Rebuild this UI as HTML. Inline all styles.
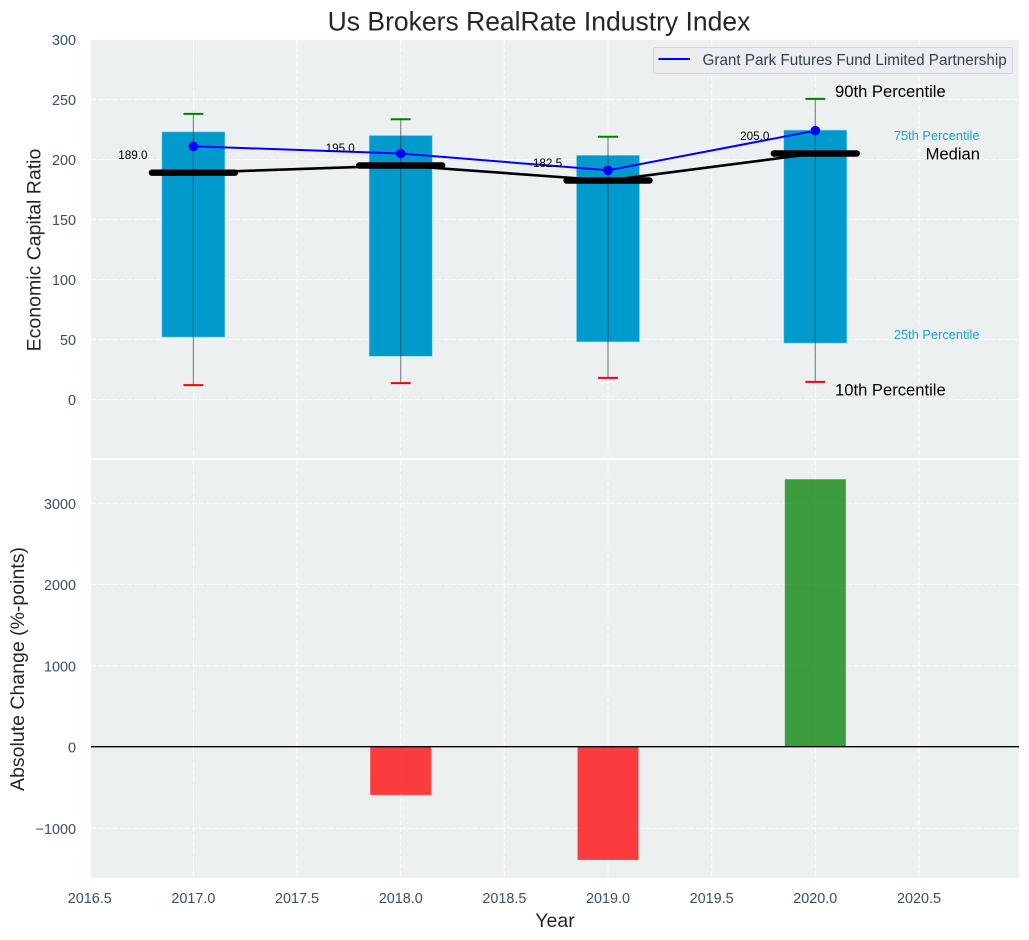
<!DOCTYPE html>
<html lang="en">
<head>
<meta charset="utf-8">
<title>Us Brokers RealRate Industry Index</title>
<style>
html,body{margin:0;padding:0;background:#fff;width:1029px;height:940px;overflow:hidden}
svg{display:block;font-family:"Liberation Sans",Arial,sans-serif}
</style>
</head>
<body>
<svg id="chart" xmlns="http://www.w3.org/2000/svg" width="1029" height="940" viewBox="0 0 1029 940">
  <text x="539" y="30.5" text-anchor="middle" font-size="26.5" fill="#262626">Us Brokers RealRate Industry Index</text>
  <rect x="91" y="40" width="928" height="418.3" fill="#ecf0f1"/>
  <rect x="91" y="460" width="928" height="418" fill="#ecf0f1"/>
  <g id="grid"></g>
  <g id="topMarks"></g>
  <g id="bottomMarks"></g>
  <g id="ticks"></g>
  <text transform="translate(40.5,250) rotate(-90)" text-anchor="middle" font-size="19.5" fill="#262626">Economic Capital Ratio</text>
  <text transform="translate(24,669) rotate(-90)" text-anchor="middle" font-size="19.5" fill="#262626">Absolute Change (%-points)</text>
  <text x="555" y="927" text-anchor="middle" font-size="19.5" fill="#262626">Year</text>
  <text x="835" y="97" font-size="16.6" fill="#000">90th Percentile</text>
  <text x="979.5" y="140" text-anchor="end" font-size="12.85" fill="#1f9fcf">75th Percentile</text>
  <text x="980" y="159.5" text-anchor="end" font-size="16.6" fill="#000">Median</text>
  <text x="979.5" y="339" text-anchor="end" font-size="12.85" fill="#1f9fcf">25th Percentile</text>
  <text x="835" y="395.5" font-size="16.6" fill="#000">10th Percentile</text>
  <g>
    <rect x="653.5" y="47.5" width="359" height="26" rx="2.5" fill="#ebedf1" stroke="#d2d4d8" stroke-width="1"/>
    <line x1="658.5" y1="59" x2="690" y2="59" stroke="#0000ff" stroke-width="2"/>
    <text x="702.5" y="65" font-size="15.25" fill="#34414f">Grant Park Futures Fund Limited Partnership</text>
  </g>
</svg>
<script>
const years = [2017, 2018, 2019, 2020];
const p10 = [12, 13.6, 18, 14.7];
const p25 = [52, 36, 48, 47];
const median = [189, 195, 182.5, 205];
const p75 = [223, 220, 203.5, 224.5];
const p90 = [238, 233.5, 219, 250.5];
const fund = [211, 205, 191, 224];
const absChange = [0, -590, -1390, 3295];
const xTicks = ['2016.5', '2017.0', '2017.5', '2018.0', '2018.5', '2019.0', '2019.5', '2020.0', '2020.5'];
const topYTicks = ['0', '50', '100', '150', '200', '250', '300'];
const bottomYTicks = ['\u22121000', '0', '1000', '2000', '3000'];

const NS = 'http://www.w3.org/2000/svg';
const x = v => 193.4 + (v - 2017) * 207.3;
const yTop = v => 399.5 - v * 1.2;
const yBot = v => 747 - v * 0.08125;
const toNum = s => parseFloat(String(s).replace('\u2212', '-'));

function make(parent, tag, attrs, text) {
  const el = document.createElementNS(NS, tag);
  for (const k in attrs) el.setAttribute(k, attrs[k]);
  if (text !== undefined) el.textContent = text;
  parent.appendChild(el);
  return el;
}

const grid = document.getElementById('grid');
const topMarks = document.getElementById('topMarks');
const bottomMarks = document.getElementById('bottomMarks');
const ticks = document.getElementById('ticks');
const gridStyle = { stroke: '#ffffff', 'stroke-width': 1.1, 'stroke-dasharray': '5 2.2' };

xTicks.forEach(t => {
  const px = x(toNum(t));
  if (px >= 91) {
    const a = make(grid, 'line', { x1: px, x2: px, y1: 40, y2: 458.3, ...gridStyle });
    
    
    const b = make(grid, 'line', { x1: px, x2: px, y1: 460, y2: 878, ...gridStyle });
    
    
  }
  const lab = make(ticks, 'text', { x: px, y: 903, 'text-anchor': 'middle', 'font-size': 14.4, fill: '#3d4f63' }, t);
  
  
});

topYTicks.forEach(t => {
  const py = yTop(toNum(t));
  const g = make(grid, 'line', { x1: 91, x2: 1019, y1: py, y2: py, ...gridStyle });
  
  
  const lab = make(ticks, 'text', { x: 76, y: py + 5.5, 'text-anchor': 'end', 'font-size': 14.4, fill: '#3d4f63' }, t);
  
  
});

bottomYTicks.forEach(t => {
  const py = yBot(toNum(t));
  const g = make(grid, 'line', { x1: 91, x2: 1019, y1: py, y2: py, ...gridStyle });
  
  
  const lab = make(ticks, 'text', { x: 76, y: py + 5.5, 'text-anchor': 'end', 'font-size': 14.4, fill: '#3d4f63' }, t);
  
  
});

const boxHalf = 0.152;
years.forEach((yr, i) => {
  const box = make(topMarks, 'rect', {
    x: x(yr - boxHalf), y: yTop(p75[i]),
    width: x(yr + boxHalf) - x(yr - boxHalf), height: yTop(p25[i]) - yTop(p75[i]),
    fill: '#009acd', stroke: '#8fd2ea', 'stroke-width': 0.6
  });
  
  
});

years.forEach((yr, i) => {
  const w = make(topMarks, 'line', {
    x1: x(yr), x2: x(yr), y1: yTop(p90[i]), y2: yTop(p10[i]),
    stroke: '#3a3a3a', 'stroke-opacity': 0.6, 'stroke-width': 1.2
  });
  
  
  const hi = make(topMarks, 'line', {
    x1: x(yr - 0.048), x2: x(yr + 0.048), y1: yTop(p90[i]), y2: yTop(p90[i]),
    stroke: '#008000', 'stroke-width': 2
  });
  
  
  const lo = make(topMarks, 'line', {
    x1: x(yr - 0.048), x2: x(yr + 0.048), y1: yTop(p10[i]), y2: yTop(p10[i]),
    stroke: '#ff0000', 'stroke-width': 2
  });
  
  
});

const medianPath = make(topMarks, 'polyline', {
  points: years.map((yr, i) => x(yr) + ',' + yTop(median[i])).join(' '),
  fill: 'none', stroke: '#000', 'stroke-width': 2.6
});



years.forEach((yr, i) => {
  const m = make(topMarks, 'line', {
    x1: x(yr - 0.2), x2: x(yr + 0.2), y1: yTop(median[i]), y2: yTop(median[i]),
    stroke: '#000', 'stroke-width': 6.4, 'stroke-linecap': 'round'
  });
  
  
});

const fundPath = make(topMarks, 'polyline', {
  points: years.map((yr, i) => x(yr) + ',' + yTop(fund[i])).join(' '),
  fill: 'none', stroke: '#0000ff', 'stroke-width': 2
});



years.forEach((yr, i) => {
  const c = make(topMarks, 'circle', { cx: x(yr), cy: yTop(fund[i]), r: 4.8, fill: '#0000ff' });
  
  
});

years.forEach((yr, i) => {
  const t = make(topMarks, 'text', {
    x: x(yr) - 60.5, y: yTop(median[i]) - 13.5, 'text-anchor': 'middle', 'font-size': 11.7, fill: '#000'
  }, median[i].toFixed(1));
  
  
});

years.forEach((yr, i) => {
  const v = absChange[i];
  if (v === 0) return;
  const top = Math.min(yBot(v), yBot(0));
  const bar = make(bottomMarks, 'rect', {
    x: x(yr - 0.147), y: top,
    width: x(yr + 0.147) - x(yr - 0.147), height: Math.abs(yBot(v) - yBot(0)),
    fill: v < 0 ? '#ff0000' : '#008000', 'fill-opacity': 0.75
  });
  
  
});

const zero = make(bottomMarks, 'line', { x1: 91, x2: 1019, y1: yBot(0) - 0.3, y2: yBot(0) - 0.3, stroke: '#000', 'stroke-width': 1.4 });


</script>
</body>
</html>
